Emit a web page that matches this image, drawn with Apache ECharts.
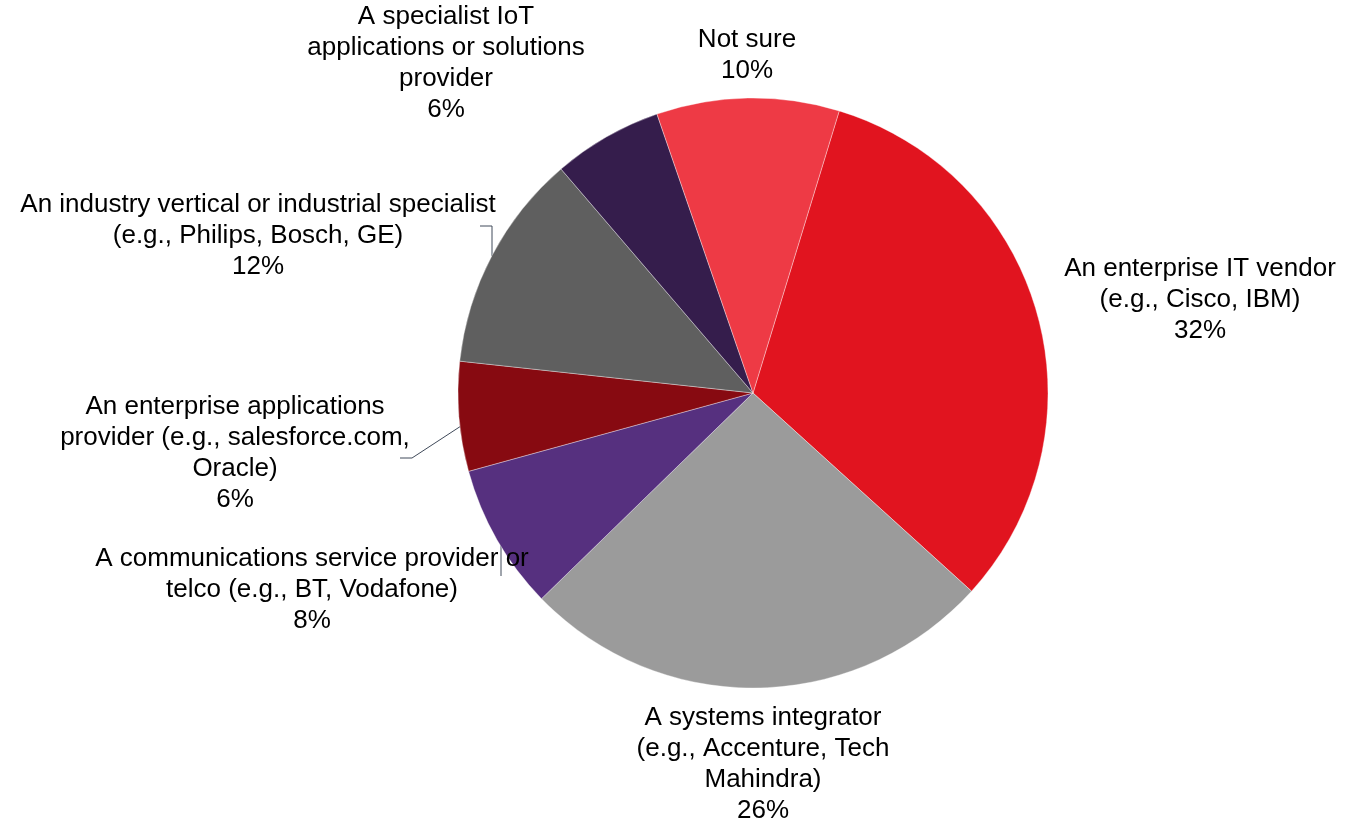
<!DOCTYPE html>
<html>
<head>
<meta charset="utf-8">
<title>IoT provider preference</title>
<script src="https://cdn.jsdelivr.net/npm/echarts@6/dist/echarts.min.js"></script>
<style>
  html, body { margin: 0; padding: 0; background: #ffffff; }
  #chart { width: 1349px; height: 821px; }
</style>
</head>
<body>
<div id="chart"></div>
<script>
// Provider categories, clockwise from the largest slice
const categories = [
  'An enterprise IT vendor\n(e.g., Cisco, IBM)',
  'A systems integrator\n(e.g., Accenture, Tech\nMahindra)',
  'A communications service provider or\ntelco (e.g., BT, Vodafone)',
  'An enterprise applications\nprovider (e.g., salesforce.com,\nOracle)',
  'An industry vertical or industrial specialist\n(e.g., Philips, Bosch, GE)',
  'A specialist IoT\napplications or solutions\nprovider',
  'Not sure'
];
// Share of respondents (%)
const shares = [32, 26, 8, 6, 12, 6, 10];

const sliceColors = ['#E1141F', '#9B9B9B', '#56307F', '#870A11', '#5F5F5F', '#351D4C', '#EE3A45'];

// Label block centres (px) and optional leader-line paths
const labelSpots = [
  [1200, 300], [763, 764], [312, 590], [235, 453], [258, 236], [446, 63], [747, 55]
];
const leaderLines = [
  null,
  null,
  [[501, 576], [501, 545]],
  [[400, 458], [412, 458], [461, 426]],
  [[480, 226], [492, 226], [492, 256]],
  null,
  null
];

const chart = echarts.init(document.getElementById('chart'), null, { renderer: 'canvas' });

const data = categories.map((name, i) => ({
  name: name,
  value: shares[i],
  itemStyle: { color: sliceColors[i] },
  labelLine: { show: !!leaderLines[i] }
}));

chart.setOption({
  animation: false,
  backgroundColor: '#ffffff',
  series: [{
    type: 'pie',
    center: [753, 393],
    radius: 295,
    startAngle: 73,
    clockwise: true,
    avoidLabelOverlap: false,
    itemStyle: { borderColor: 'rgba(255,255,255,0.6)', borderWidth: 0.6 },
    label: {
      show: true,
      position: 'outside',
      formatter: '{b}\n{d}%',
      fontFamily: '"Liberation Sans", Arial, sans-serif',
      fontSize: 26,
      lineHeight: 31,
      color: '#000000',
      align: 'center'
    },
    labelLine: {
      lineStyle: { color: '#404a5a', width: 1 }
    },
    labelLayout: function (params) {
      const i = params.dataIndex;
      const out = {
        x: labelSpots[i][0],
        y: labelSpots[i][1],
        align: 'center',
        verticalAlign: 'middle'
      };
      if (leaderLines[i]) out.labelLinePoints = leaderLines[i];
      return out;
    },
    emphasis: { disabled: true },
    data: data
  }]
});
</script>
</body>
</html>
